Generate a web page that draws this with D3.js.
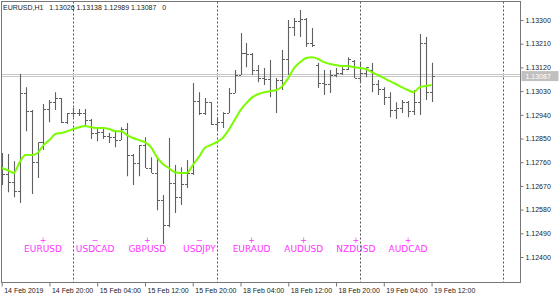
<!DOCTYPE html>
<html lang="en">
<head>
  <meta charset="UTF-8">
  <script src="https://d3js.org/d3.v7.min.js"></script>
  <title>EURUSD H1</title>
  <style>
    body { margin: 0; background: #fff; }
    text { font-family: "Liberation Sans", Arial, sans-serif; }
  </style>
</head>
<body>
  <script>
      // set the dimensions of the chart
      var width = 560, height = 297;

      //hourly bars from 14 Feb 12:00 (index 0) to 19 Feb 12:00 (index 72)
      var opens  = [1.12749,1.12715,1.12684,1.12650,1.13023,1.12954,1.12760,1.12836,1.12962,1.12988,
                    1.13004,1.12912,1.12947,1.12947,1.12947,1.12920,1.12871,1.12874,1.12859,1.12855,
                    1.12844,1.12886,1.12787,1.12757,1.12825,1.12738,1.12719,1.12616,1.12521,1.12681,
                    1.12627,1.12677,1.12719,1.12992,1.12947,1.12988,1.12905,1.12912,1.12947,1.13023,
                    1.13091,1.13175,1.13171,1.13110,1.13080,1.13076,1.13034,1.13072,1.13152,1.13273,
                    1.13296,1.13304,1.13213,1.13129,1.13061,1.13057,1.13091,1.13099,1.13114,1.13144,
                    1.13080,1.13099,1.13110,1.13057,1.13038,1.13007,1.12958,1.12966,1.12988,1.12954,
                    1.12988,1.13213,1.13026];
      var highs  = [1.12795,1.12791,1.12764,1.13095,1.13045,1.12958,1.12836,1.12981,1.12996,1.13026,
                    1.13004,1.12947,1.12966,1.12962,1.12962,1.12924,1.12890,1.12890,1.12871,1.12882,
                    1.12893,1.12909,1.12791,1.12825,1.12855,1.12779,1.12776,1.12635,1.12852,1.12749,
                    1.12741,1.12768,1.13061,1.13026,1.13004,1.12988,1.12931,1.12950,1.13042,1.13110,
                    1.13251,1.13213,1.13175,1.13129,1.13118,1.13148,1.13080,1.13186,1.13300,1.13308,
                    1.13338,1.13308,1.13270,1.13137,1.13110,1.13110,1.13118,1.13121,1.13159,1.13148,
                    1.13137,1.13121,1.13137,1.13072,1.13045,1.13026,1.12988,1.12996,1.12992,1.13034,
                    1.13247,1.13235,1.13138];
      var lows   = [1.12673,1.12646,1.12627,1.12605,1.12878,1.12639,1.12700,1.12806,1.12912,1.12958,
                    1.12909,1.12905,1.12931,1.12935,1.12901,1.12848,1.12840,1.12848,1.12833,1.12817,
                    1.12844,1.12707,1.12673,1.12707,1.12738,1.12719,1.12578,1.12449,1.12513,1.12567,
                    1.12597,1.12662,1.12711,1.12939,1.12939,1.12901,1.12882,1.12890,1.12947,1.13023,
                    1.13091,1.13121,1.13091,1.13064,1.13053,1.13007,1.12947,1.13034,1.13091,1.13239,
                    1.13235,1.13197,1.13197,1.13042,1.13015,1.13023,1.13083,1.13091,1.13110,1.13080,
                    1.13061,1.13083,1.13026,1.13015,1.12977,1.12931,1.12924,1.12947,1.12931,1.12939,
                    1.12939,1.12996,1.12989];
      var closes = [1.12715,1.12684,1.12650,1.13023,1.12954,1.12760,1.12836,1.12962,1.12988,1.13004,
                    1.12912,1.12947,1.12947,1.12947,1.12920,1.12871,1.12874,1.12859,1.12855,1.12844,
                    1.12886,1.12787,1.12757,1.12825,1.12738,1.12719,1.12616,1.12521,1.12681,1.12627,
                    1.12677,1.12719,1.12992,1.12947,1.12988,1.12905,1.12912,1.12947,1.13023,1.13091,
                    1.13175,1.13171,1.13110,1.13080,1.13076,1.13034,1.13072,1.13152,1.13273,1.13296,
                    1.13304,1.13213,1.13205,1.13061,1.13057,1.13091,1.13099,1.13114,1.13152,1.13080,
                    1.13099,1.13121,1.13057,1.13038,1.13007,1.12958,1.12966,1.12988,1.12954,1.12988,
                    1.13213,1.13026,1.13087];

      //moving average line
      var maValues = [1.12738,1.12730,1.12719,1.12760,1.12787,1.12787,1.12795,1.12825,1.12844,1.12867,
                      1.12871,1.12878,1.12886,1.12893,1.12897,1.12893,1.12890,1.12890,1.12886,1.12878,
                      1.12878,1.12863,1.12852,1.12844,1.12836,1.12817,1.12779,1.12753,1.12738,1.12722,
                      1.12719,1.12719,1.12749,1.12779,1.12814,1.12825,1.12836,1.12852,1.12882,1.12920,
                      1.12958,1.12985,1.13007,1.13019,1.13026,1.13030,1.13034,1.13049,1.13080,1.13118,
                      1.13140,1.13156,1.13159,1.13152,1.13140,1.13133,1.13129,1.13125,1.13125,1.13121,
                      1.13118,1.13114,1.13102,1.13091,1.13080,1.13068,1.13057,1.13045,1.13034,1.13026,
                      1.13045,1.13049,1.13053];

      //axis ticks
      var priceTicks = [1.12400,1.12490,1.12580,1.12670,1.12760,1.12850,1.12940,1.13030,1.13120,1.13210,1.13300];
      var timeTickBars = [0,8,16,24,32,40,48,56,64,72];
      var timeTickLabels = ["14 Feb 2019","14 Feb 20:00","15 Feb 04:00","15 Feb 12:00","15 Feb 20:00",
                            "18 Feb 04:00","18 Feb 12:00","18 Feb 20:00","19 Feb 04:00","19 Feb 12:00"];
      var daySeparators = [12,36,60,84];

      //currency strength labels
      var pairs = ["EURUSD","USDCAD","GBPUSD","USDJPY","EURAUD","AUDUSD","NZDUSD","AUDCAD"];
      var signs = ["+","\u2212","+","\u2212","+","+","+","+"];

      var bid = 1.13087, ask = 1.13095;
      var header = ["EURUSD,H1", "1.13026 1.13138 1.12989 1.13087", "0"];

      // plot box (window.top is reserved, so prefixed names)
      var pLeft = 1.5, pTop = 1.5, pRight = 520.5, pBottom = 282.5;

      var x = d3.scaleLinear().domain([0, 84]).range([1.7, 503.2]);
      var y = d3.scaleLinear().domain([1.12400, 1.13300]).range([257, 20]);

      var svg = d3.select("body")
        .append("svg")
        .attr("width", width)
        .attr("height", height)
        .style("background", "#fff");

      svg.append("clipPath").attr("id", "plot")
        .append("rect")
        .attr("x", pLeft).attr("y", pTop)
        .attr("width", pRight - pLeft).attr("height", pBottom - pTop);

      var plot = svg.append("g").attr("clip-path", "url(#plot)");

      //day separators
      plot.selectAll(".sep").data(daySeparators).enter()
          .append("line")
          .attr("x1", function(d){ return Math.round(x(d)) + 0.5; })
          .attr("x2", function(d){ return Math.round(x(d)) + 0.5; })
          .attr("y1", pTop).attr("y2", pBottom)
          .attr("stroke", "#555")
          .attr("stroke-dasharray", "2,2");

      //bid / ask lines
      plot.selectAll(".ba").data([ask, bid]).enter()
          .append("line")
          .attr("x1", pLeft).attr("x2", pRight)
          .attr("y1", function(d){ return Math.round(y(d)) + 0.5; })
          .attr("y2", function(d){ return Math.round(y(d)) + 0.5; })
          .attr("stroke", "#c8c8c8");

      //ohlc bars
      var bars = plot.selectAll(".bar").data(closes).enter()
          .append("g")
          .attr("stroke", "#606060")
          .attr("stroke-width", 1.1);

      bars.append("line")
          .attr("x1", function(d,i){ return Math.round(x(i)) + 0.5; })
          .attr("x2", function(d,i){ return Math.round(x(i)) + 0.5; })
          .attr("y1", function(d,i){ return y(highs[i]); })
          .attr("y2", function(d,i){ return y(lows[i]); });

      bars.append("line")
          .attr("x1", function(d,i){ return Math.round(x(i)) - 2; })
          .attr("x2", function(d,i){ return Math.round(x(i)); })
          .attr("y1", function(d,i){ return Math.round(y(opens[i])) + 0.5; })
          .attr("y2", function(d,i){ return Math.round(y(opens[i])) + 0.5; });

      bars.append("line")
          .attr("x1", function(d,i){ return Math.round(x(i)) + 1; })
          .attr("x2", function(d,i){ return Math.round(x(i)) + 3; })
          .attr("y1", function(d){ return Math.round(y(d)) + 0.5; })
          .attr("y2", function(d){ return Math.round(y(d)) + 0.5; });

      //moving average
      var ma = d3.line()
          .x(function(d,i){ return x(i); })
          .y(function(d){ return y(d); })
          .curve(d3.curveMonotoneX);

      plot.append("path")
          .datum(maValues)
          .attr("d", ma)
          .attr("fill", "none")
          .attr("stroke", "#7cfc00")
          .attr("stroke-width", 2);

      //pair labels
      var lx = d3.scalePoint().domain(pairs).range([43, 408]);

      svg.selectAll(".sign").data(signs).enter()
          .append("text")
          .attr("x", function(d,i){ return lx(pairs[i]); })
          .attr("y", 243)
          .attr("text-anchor", "middle")
          .style("font-family", "DejaVu Sans")
          .style("font-size", "8px")
          .attr("fill", "#ff33ff")
          .text(function(d){ return d; });

      svg.selectAll(".pair").data(pairs).enter()
          .append("text")
          .attr("x", function(d){ return lx(d); })
          .attr("y", 252)
          .attr("text-anchor", "middle")
          .style("font-family", "DejaVu Sans")
          .style("font-size", "9px")
          .attr("fill", "#ff33ff")
          .text(function(d){ return d; });

      //frame
      svg.append("rect")
          .attr("x", pLeft).attr("y", pTop)
          .attr("width", pRight - pLeft).attr("height", pBottom - pTop)
          .attr("fill", "none")
          .attr("stroke", "#777");

      //price axis
      var yAxis = svg.append("g")
          .attr("transform", "translate(" + pRight + ",0)")
          .call(d3.axisRight(y).tickValues(priceTicks).tickFormat(d3.format(".5f")).tickSize(3).tickPadding(2));
      yAxis.select(".domain").remove();
      yAxis.selectAll("line").attr("stroke", "#777");
      yAxis.selectAll("text").style("font-size", "7px").attr("fill", "#222");

      //time axis
      var xAxis = svg.append("g")
          .attr("transform", "translate(0," + pBottom + ")")
          .call(d3.axisBottom(x).tickValues(timeTickBars)
                .tickFormat(function(d,i){ return timeTickLabels[i]; }).tickSize(4));
      xAxis.select(".domain").remove();
      xAxis.selectAll("line").attr("stroke", "#777");
      xAxis.selectAll("text")
          .attr("text-anchor", "start")
          .attr("x", 2).attr("y", 6)
          .style("font-size", "7px").attr("fill", "#222");

      //current price label
      svg.append("rect")
          .attr("x", pRight + 1).attr("y", y(bid) - 5)
          .attr("width", 37).attr("height", 10)
          .attr("fill", "#c0c0c0");
      svg.append("text")
          .attr("x", pRight + 5).attr("y", y(bid) + 2.5)
          .style("font-size", "7px")
          .attr("fill", "#fff")
          .text(d3.format(".5f")(bid));

      //header, with the wider gaps kept
      svg.append("text")
          .attr("x", 3).attr("y", 10)
          .style("font-size", "7px")
          .style("white-space", "pre")
          .attr("fill", "#222")
          .text(header[0] + "   " + header[1] + "   " + header[2]);
  </script>
</body>
</html>
